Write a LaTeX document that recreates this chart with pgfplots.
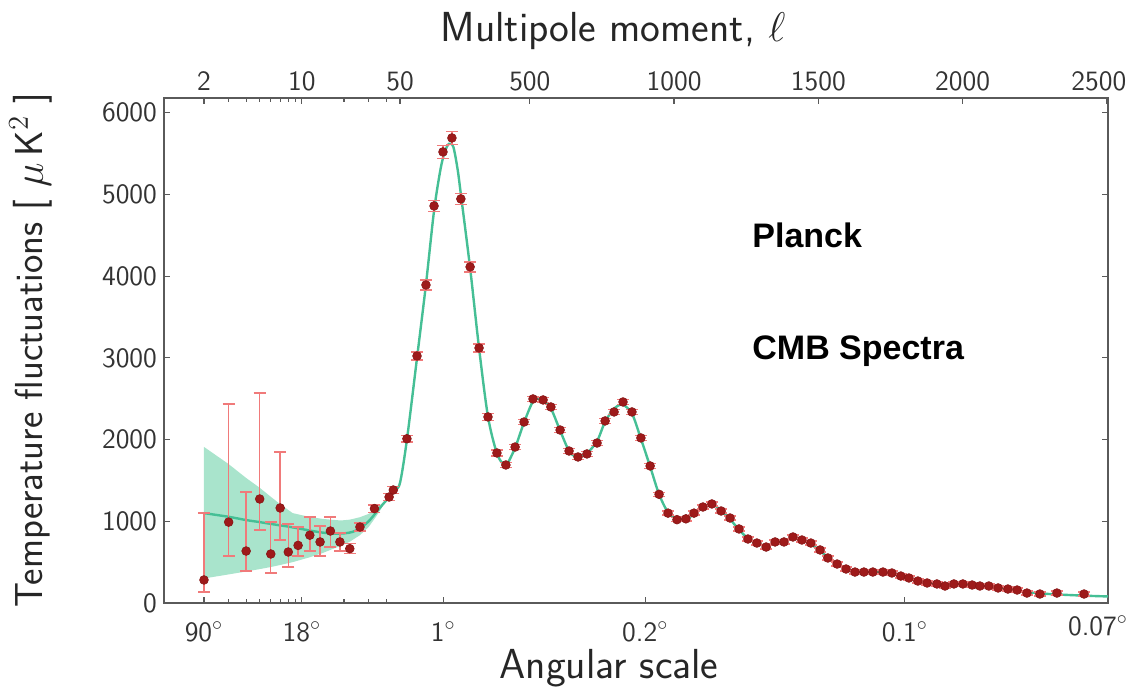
\documentclass[border=0pt]{standalone}
\usepackage{pgfplots}
\usepackage{pgfplotstable}
\usepackage{fontspec}
\newfontfamily\arialfont{Liberation Sans}
\pgfplotsset{compat=1.18}
\usepgfplotslibrary{fillbetween}
\usetikzlibrary{calc}
\definecolor{dotred}{HTML}{9E1A1A}
\definecolor{errred}{HTML}{F07A7A}
\definecolor{linegreen}{HTML}{45BF95}
\definecolor{bandgreen}{HTML}{A9E4CC}
\definecolor{framegray}{HTML}{5A5A5A}
\pgfplotsset{x coord trafo/.code={\pgfmathparse{(#1<50)*(204+140*log10(#1/2))+(#1>=50)*(400+0.2885*(#1-50))}}}

\pgfplotstableread{
l D ep em
2 282 818 147
3 990 1445 415
4 636 724 244
5 1273 1297 380
6 600 390 233
7 1163 687 392
8 624 343 183
9.4 705 225 130
11.4 830 221 196
13.5 747 195 172
16 881 172 196
18.7 747 110 110
22 665 60 60
26 930 50 50
33 1155 45 45
42 1297 40 40
45 1383 40 40
74 2010 40 40
109 3023 50 50
140 3892 60 60
168 4859 70 70
199 5520 80 80
230 5691 80 80
261 4945 70 70
293 4113 60 60
324 3121 50 50
355 2277 40 40
386 1836 35 35
417 1689 30 30
449 1909 30 30
480 2215 30 30
511 2497 30 30
546 2485 30 30
573 2399 30 30
605 2117 30 30
636 1860 30 30
667 1787 30 30
698 1824 30 30
733 1958 30 30
761 2228 30 30
792 2338 30 30
823 2460 30 30
854 2338 30 30
885 2020 30 30
917 1677 30 30
948 1330 25 25
979 1100 25 25
1010 1020 25 25
1041 1030 25 25
1069 1100 25 25
1100 1175 25 25
1131 1212 25 25
1163 1126 25 25
1194 1040 25 25
1225 906 25 25
1256 783 25 25
1287 734 25 25
1319 685 25 25
1350 747 25 25
1381 747 25 25
1412 808 25 25
1443 771 25 25
1474 734 25 25
1506 649 25 25
1533 551 25 25
1565 477 25 25
1596 416 25 25
1627 379 25 25
1658 379 25 25
1689 379 25 25
1724 379 25 25
1755 367 25 25
1786 330 25 25
1814 306 25 25
1845 269 25 25
1877 245 25 25
1911 233 25 25
1939 208 25 25
1970 233 25 25
2001 233 25 25
2033 220 25 25
2060 208 25 25
2091 208 25 25
2123 184 25 25
2157 171 25 25
2189 159 25 25
2223 122 25 25
2268 110 25 25
2327 122 25 25
2421 110 25 25
}\planckdata

\pgfplotstableread{
l D
2 1100
3 1055
4 1015
5 990
6 968
7 950
8 935
10 905
12 880
14 862
17 850
20 852
23 870
26 915
30 1000
34 1110
38 1210
42 1295
46 1380
50 1470
74 2000
109 3000
140 3900
168 4800
190 5300
205 5520
220 5620
235 5580
250 5300
261 5000
293 4100
324 3120
355 2280
386 1830
410 1690
420 1690
449 1900
480 2210
511 2470
530 2500
546 2470
573 2380
605 2110
636 1860
660 1790
680 1800
698 1830
733 1980
761 2220
792 2380
815 2430
823 2430
854 2320
885 2010
917 1670
948 1330
979 1110
1010 1030
1030 1020
1050 1040
1069 1090
1100 1170
1125 1200
1140 1200
1162 1130
1193 1030
1224 900
1256 790
1287 730
1318 700
1340 720
1381 760
1412 790
1443 770
1474 720
1505 640
1533 560
1564 480
1595 420
1626 385
1657 375
1688 375
1723 372
1754 360
1785 330
1813 300
1844 272
1875 250
1910 235
1938 225
1969 225
2000 225
2031 215
2059 205
2090 195
2121 180
2156 165
2187 150
2222 135
2267 118
2326 105
2420 90
2504 80
}\theoryline

\pgfplotstableread{
l up lo
2 1910 300
3 1700 350
4 1530 385
5 1410 415
6 1300 440
7 1210 465
8.6 1100 500
11.4 1053 560
14 1030 610
16 1020 650
19 1010 700
22 1020 750
26 1050 830
30 1090 930
34 1160 1060
38 1230 1190
}\cvband

\begin{document}
\begin{tikzpicture}
\pgfplotsset{
  common/.style={
    scale only axis, width=472pt, height=252.5pt,
    xmin=1.036, xmax=2504, ymin=0, ymax=6180,
    axis line style={framegray, line width=0.9pt},
    tick align=inside,
    major tick length=3pt, minor tick length=1.8pt,
    every tick/.style={framegray, line width=0.6pt},
    minor xtick={3,4,5,6,7,8,9,20,30,40},
    tick label style={font=\sffamily\fontsize{14}{16}\selectfont, text=black!80},
  }
}
\begin{axis}[common,
  xtick={2,10,50,500,1000,1500,2000,2500},
  xticklabels={2,10,50,500,1000,1500,2000,\hspace*{-8pt}2500},
  xtick pos=right, xticklabel pos=right,
  ytick={0,1000,2000,3000,4000,5000,6000},
  yticklabels={0,1000,2000,3000,4000,5000,6000},
  ytick pos=both, yticklabel pos=left,
]
\coordinate (O) at (rel axis cs:0,0);
\addplot[name path=bu, draw=none] table[x=l, y=up]{\cvband};
\addplot[name path=bl, draw=none] table[x=l, y=lo]{\cvband};
\addplot[bandgreen, draw=none] fill between[of=bu and bl];
\addplot[linegreen, line width=1.2pt, smooth, no marks] table[x=l, y=D]{\theoryline};
\addplot[only marks, mark=*, mark size=2.2pt,
  mark options={fill=dotred, draw=dotred!85!black, line width=0.3pt},
  error bars/.cd, y dir=both, y explicit,
  error bar style={errred, line width=0.7pt},
  error mark options={rotate=90, errred, mark size=3pt, line width=0.7pt}]
  table[x=l, y=D, y error plus=ep, y error minus=em]{\planckdata};
\end{axis}
\begin{axis}[common,
  hide y axis,
  xtick={2,10,200,900,1800},
  xticklabels={90$^\circ$,18$^\circ$,1$^\circ$,0.2$^\circ$,0.1$^\circ$},
  xtick pos=left, xticklabel pos=left,
  xticklabel style={yshift=-6pt},
]
\end{axis}
\begin{scope}[shift={($(O)+(-82pt,301.5pt)$)}, x=0.5pt, y=-0.5pt]
\node[anchor=base west, inner sep=0pt, font=\arialfont\bfseries\fontsize{17}{20}\selectfont] at (752,247) {Planck};
\node[anchor=base west, inner sep=0pt, font=\arialfont\bfseries\fontsize{17}{20}\selectfont] at (752,359) {CMB Spectra};
\node[anchor=base, inner sep=0pt, font=\sffamily\fontsize{21}{24}\selectfont, text=black!85] at (609,678) {Angular scale};
\node[anchor=base, inner sep=0pt, font=\sffamily\fontsize{21}{24}\selectfont, text=black!85] at (613,42) {Multipole moment, $\ell$};
\node[anchor=center, inner sep=0pt, rotate=90, font=\sffamily\fontsize{19.5}{22}\selectfont, text=black!85] at (31,350) {Temperature fluctuations [ $\mu\,$K$^2$ ]};
\node[anchor=base, inner sep=0pt, font=\sffamily\fontsize{14}{16}\selectfont, text=black!80] at (1098,635) {0.07$^\circ$};
\pgfresetboundingbox
\path[use as bounding box] (0,0) rectangle (1132,687);
\end{scope}
\end{tikzpicture}
\end{document}
